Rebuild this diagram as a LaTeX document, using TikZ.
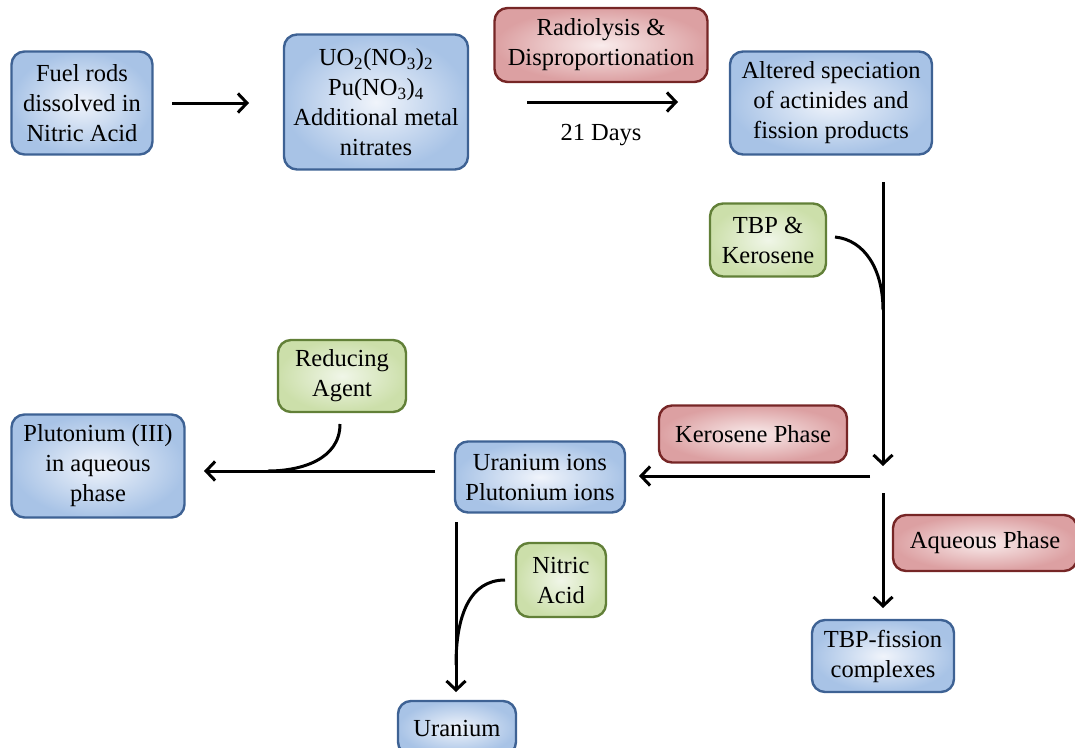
\documentclass[tikz,border=0pt]{standalone}
\usepackage{fontspec}
\setmainfont{Liberation Serif}
\usetikzlibrary{arrows.meta}
\definecolor{bdrB}{RGB}{62,98,148}
\definecolor{inB}{RGB}{240,244,251}
\definecolor{outB}{RGB}{168,195,230}
\definecolor{bdrR}{RGB}{118,38,38}
\definecolor{inR}{RGB}{249,236,236}
\definecolor{outR}{RGB}{220,160,162}
\definecolor{bdrG}{RGB}{98,128,56}
\definecolor{inG}{RGB}{240,246,232}
\definecolor{outG}{RGB}{204,223,170}
\begin{document}
\begin{tikzpicture}[x=1pt,y=-1pt,
  box/.style={rounded corners=13pt, line width=2.4pt, align=center, inner sep=0pt,
    font=\fontsize{24.5}{30}\selectfont},
  bbox/.style={box, draw=bdrB, inner color=inB, outer color=outB},
  rbox/.style={box, draw=bdrR, inner color=inR, outer color=outR},
  gbox/.style={box, draw=bdrG, inner color=inG, outer color=outG},
  arr/.style={line width=3pt, -{Straight Barb[length=9pt,width=19pt,line width=3pt]}},
  ln/.style={line width=3pt},
  lbl/.style={font=\fontsize{24.5}{30}\selectfont}
]
\useasboundingbox (0,0) rectangle (1075,747);

% nodes
\node[bbox, minimum width=141pt, minimum height=103pt] (fuel) at (82,103) {Fuel rods\\dissolved in\\Nitric Acid};
\node[bbox, minimum width=184pt, minimum height=135pt] (uo2) at (376,102) {UO\textsubscript{2}(NO\textsubscript{3})\textsubscript{2}\\Pu(NO\textsubscript{3})\textsubscript{4}\\Additional metal\\nitrates};
\node[rbox, minimum width=213pt, minimum height=74pt] (rad) at (601,45) {Radiolysis \&\\Disproportionation};
\node[bbox, minimum width=202pt, minimum height=103pt] (alt) at (831,103) {Altered speciation\\of actinides and\\fission products};
\node[gbox, minimum width=116pt, minimum height=73pt] (tbp) at (768,240) {TBP \&\\Kerosene};
\node[rbox, minimum width=188pt, minimum height=57pt] (kero) at (753,434) {Kerosene Phase};
\node[bbox, minimum width=170pt, minimum height=71pt] (uip) at (540,477) {Uranium ions\\Plutonium ions};
\node[gbox, minimum width=128pt, minimum height=72pt] (red) at (342,376) {Reducing\\Agent};
\node[bbox, minimum width=173pt, minimum height=103pt] (pu) at (98,466) {Plutonium (III)\\in aqueous\\phase};
\node[gbox, minimum width=90pt, minimum height=74pt] (nit) at (561,580) {Nitric\\Acid};
\node[bbox, minimum width=118pt, minimum height=54pt] (ur) at (457,728) {Uranium};
\node[rbox, minimum width=184pt, minimum height=56pt] (aq) at (985,543) {Aqueous Phase};
\node[bbox, minimum width=142pt, minimum height=72pt] (tbpf) at (883,656) {TBP-fission\\complexes};

% coordinates
\coordinate (a1) at (172,103);
\coordinate (a2) at (249,103);
\coordinate (b1) at (527,102);
\coordinate (b2) at (678,102);
\coordinate (c1) at (883,182);
\coordinate (c2) at (883,466);
\coordinate (c3) at (835,237);
\coordinate (c4) at (883,310);
\coordinate (d1) at (870,476);
\coordinate (d2) at (639,476);
\coordinate (e1) at (883,493);
\coordinate (e2) at (883,608);
\coordinate (f1) at (435,471);
\coordinate (f2) at (204,471);
\coordinate (f3) at (340,424);
\coordinate (f4) at (268,471);
\coordinate (g1) at (456,522);
\coordinate (g2) at (456,692);
\coordinate (g3) at (505,580);
\coordinate (g4) at (456,665);

% connectors
\draw[arr] (a1) -- (a2);
\draw[arr] (b1) -- (b2);
\node[lbl] (days) at (601,135) {21 Days};
\draw[arr] (c1) -- (c2);
\draw[ln] (c3) .. controls (865,240) and (883,270) .. (c4);
\draw[arr] (d1) -- (d2);
\draw[arr] (e1) -- (e2);
\draw[arr] (f1) -- (f2);
\draw[ln] (f3) .. controls (340,460) and (300,471) .. (f4);
\draw[arr] (g1) -- (g2);
\draw[ln] (g3) .. controls (470,580) and (456,615) .. (g4);
\end{tikzpicture}
\end{document}
